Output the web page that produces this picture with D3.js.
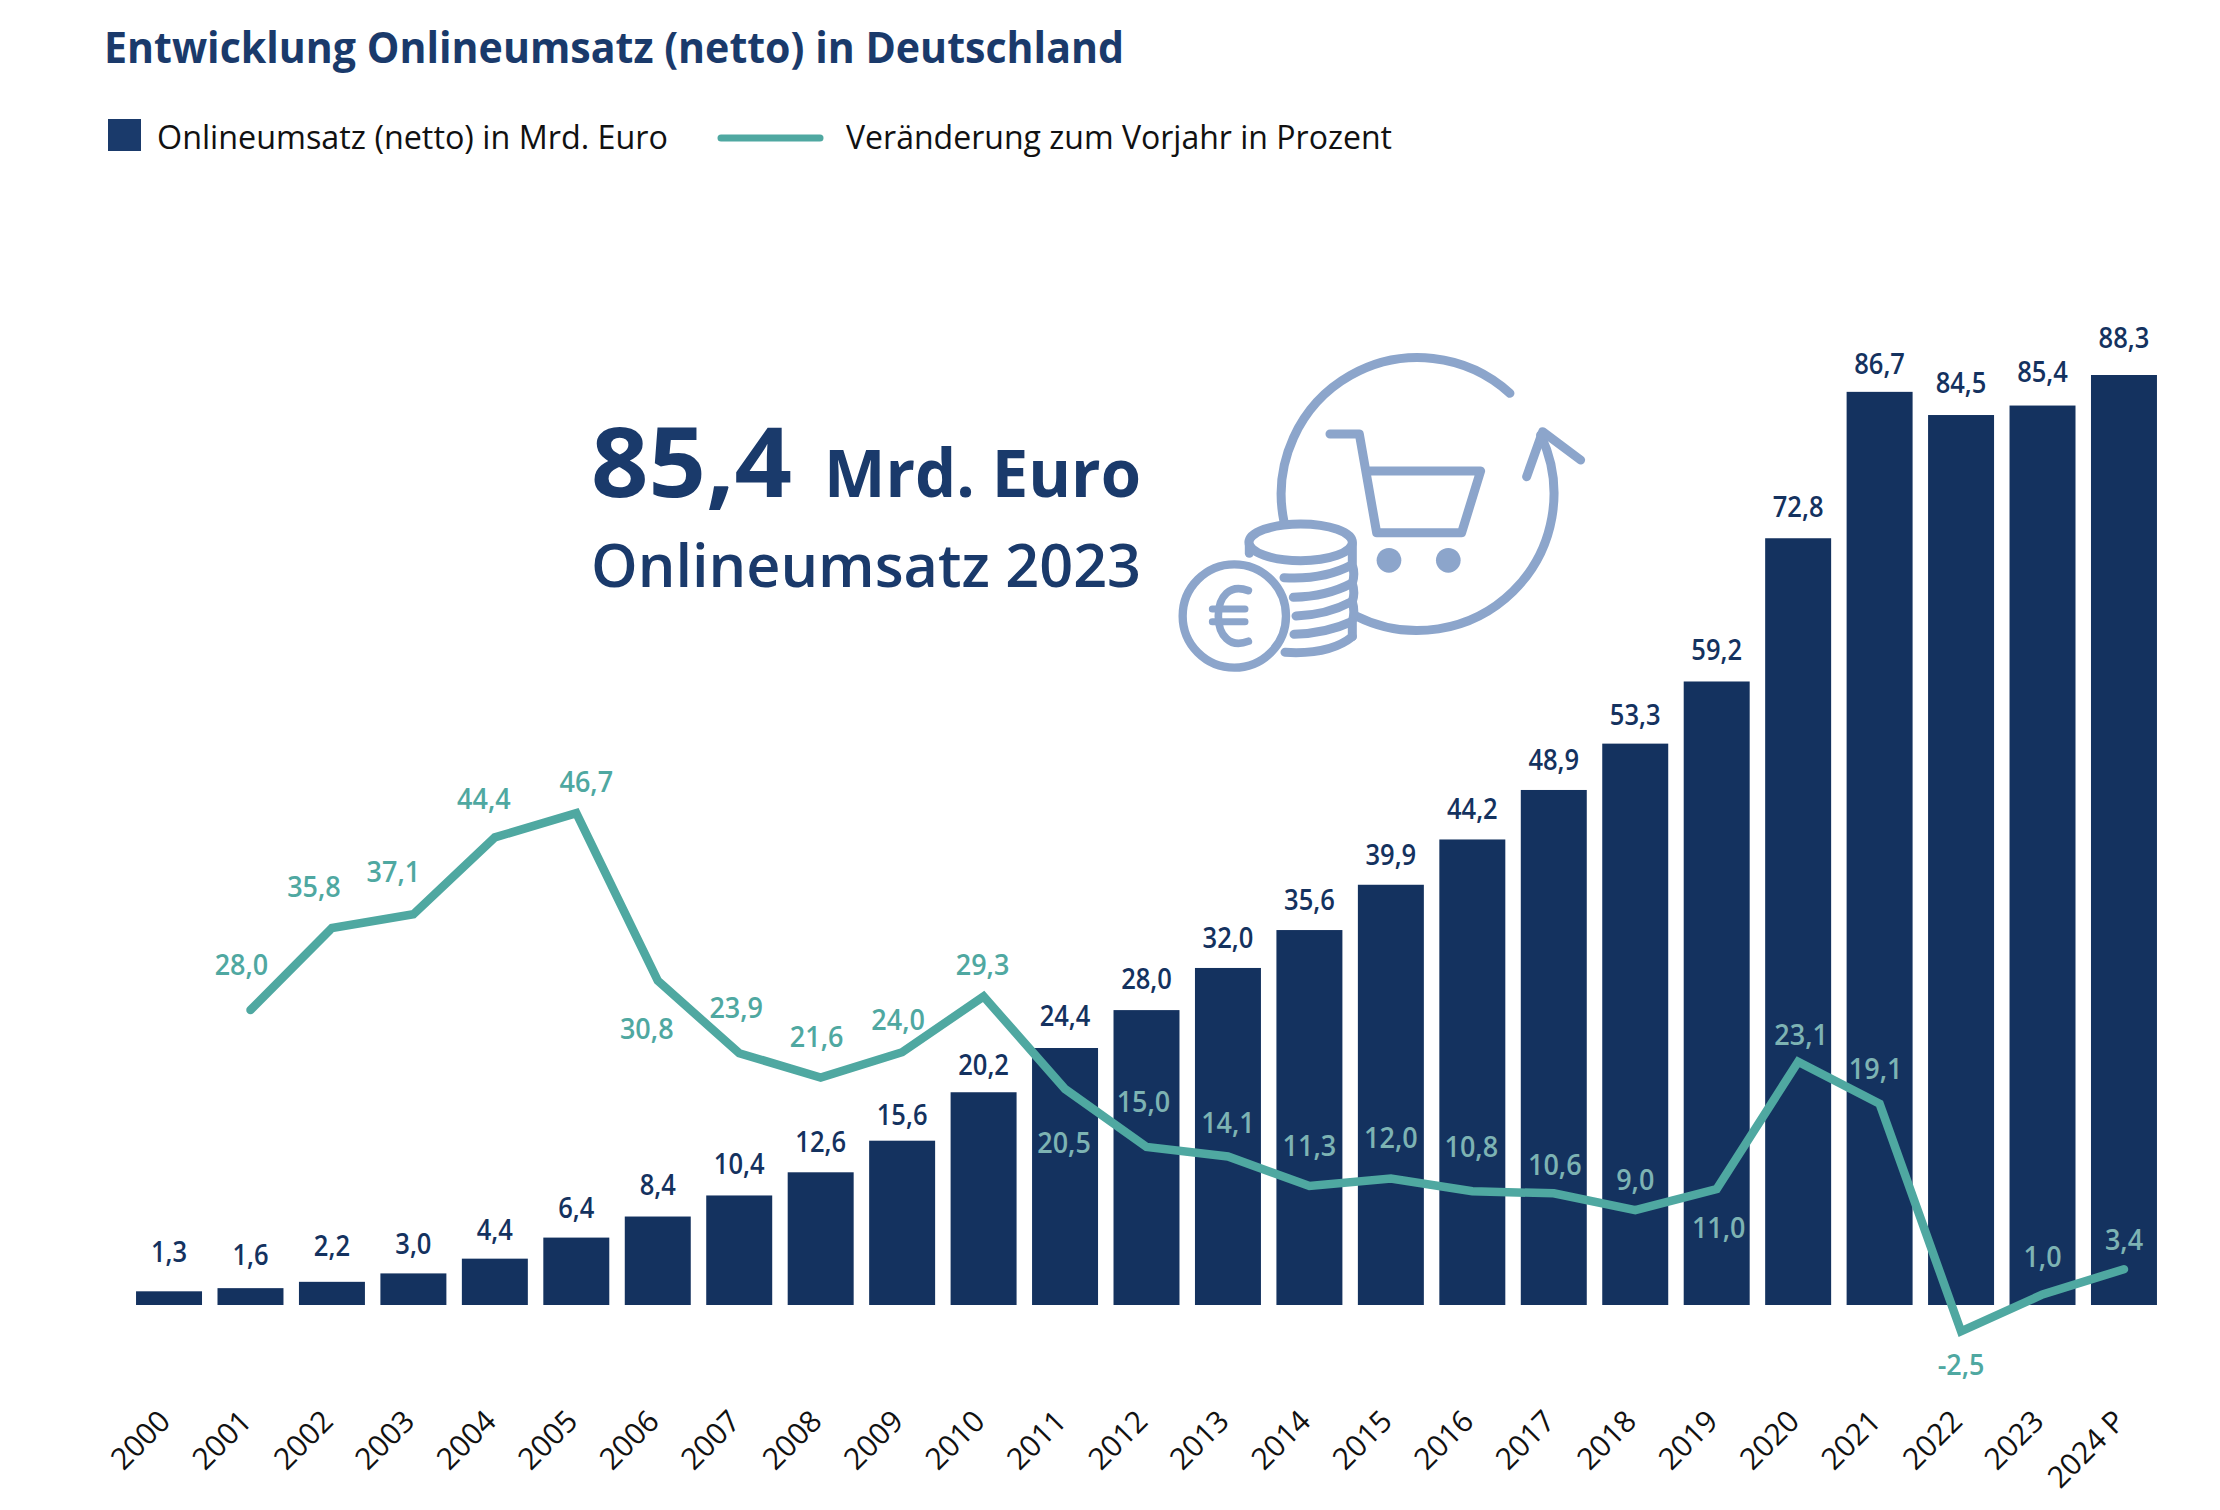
<!DOCTYPE html>
<html lang="de">
<head>
<meta charset="utf-8">
<title>Entwicklung Onlineumsatz (netto) in Deutschland</title>
<script src="https://cdnjs.cloudflare.com/ajax/libs/d3/7.8.5/d3.min.js"></script>
<style>
    html, body { margin: 0; padding: 0; background: #fff; }
    svg { display: block; }
    text { font-family: "Open Sans", sans-serif; }
</style>
</head>
<body>
<svg id="chart" width="2220" height="1510"></svg>
<script>
const years = ['2000', '2001', '2002', '2003', '2004', '2005', '2006', '2007', '2008', '2009', '2010', '2011',
    '2012', '2013', '2014', '2015', '2016', '2017', '2018', '2019', '2020', '2021', '2022', '2023', '2024 P'];
const revenue = [1.3, 1.6, 2.2, 3.0, 4.4, 6.4, 8.4, 10.4, 12.6, 15.6, 20.2, 24.4,
    28.0, 32.0, 35.6, 39.9, 44.2, 48.9, 53.3, 59.2, 72.8, 86.7, 84.5, 85.4, 88.3];
const change = [null, 28.0, 35.8, 37.1, 44.4, 46.7, 30.8, 23.9, 21.6, 24.0, 29.3, 20.5,
    15.0, 14.1, 11.3, 12.0, 10.8, 10.6, 9.0, 11.0, 23.1, 19.1, -2.5, 1.0, 3.4];

// label placement, kept apart from the values
const barLabelGap = [29, 23, 26, 19, 19, 20, 22, 21, 20, 16, 17, 22, 21, 20, 20, 20, 20, 20, 19, 21, 21, 18, 22, 24, 27];
const changeLabelOffset = [null, [-9, -45], [-18, -41], [-20, -42], [-11, -38], [10, -31], [-11, 48], [-3, -45], [-4, -41],
    [-4, -32], [-1, -31], [-1, 54], [-3, -45], [0, -33], [0, -40], [0, -41], [-1, -44], [1, -28], [0, -30], [2, 39],
    [3, -27], [-4, -35], [0, 34], [0, -37], [0, -29]];

const navy = '#14325f';
const titleBlue = '#1a3a6b';
const teal = '#4fa8a1';
const tealOnBar = '#7db3b3';
const iconBlue = '#8ca5cb';

const svg = d3.select('#chart');

const x = d3.scaleBand().domain(years).range([128.3, 2164.7]).paddingInner(0.19).paddingOuter(0.095);
const y = d3.scaleLinear().domain([0, 88.3]).range([1305, 375]);
const fmt = v => d3.format('.1f')(v).replace('.', ',').replace('\u2212', '-');
const cx = i => x(years[i]) + x.bandwidth() / 2;

// squeeze Open Sans to the narrower widths of the original typeface
function squeeze(selection, factor) {
    selection.each(function() {
        d3.select(this)
            .attr('textLength', this.getComputedTextLength() * factor)
            .attr('lengthAdjust', 'spacingAndGlyphs');
    });
}

function fitText(x0, baseline, str, size, weight, fill, width) {
    svg.append('text')
        .attr('x', x0).attr('y', baseline)
        .attr('font-size', size).attr('font-weight', weight).attr('fill', fill)
        .attr('textLength', width).attr('lengthAdjust', 'spacingAndGlyphs')
        .text(str);
}

fitText(104, 63, 'Entwicklung Onlineumsatz (netto) in Deutschland', 43, 700, titleBlue, 1020);

// legend
svg.append('rect').attr('x', 108).attr('y', 119).attr('width', 33).attr('height', 32).attr('fill', titleBlue);
fitText(157, 149, 'Onlineumsatz (netto) in Mrd. Euro', 33, 400, '#111', 511);
svg.append('line').attr('x1', 721).attr('x2', 820).attr('y1', 138).attr('y2', 138)
    .attr('stroke', teal).attr('stroke-width', 7).attr('stroke-linecap', 'round');
fitText(846, 149, 'Veränderung zum Vorjahr in Prozent', 33, 400, '#111', 546);

// bars
svg.append('g').selectAll('rect')
    .data(revenue)
    .join('rect')
    .attr('x', (d, i) => x(years[i]))
    .attr('y', d => y(d))
    .attr('width', x.bandwidth())
    .attr('height', d => y(0) - y(d))
    .attr('fill', navy);

svg.append('g').selectAll('text')
    .data(revenue)
    .join('text')
    .attr('x', (d, i) => cx(i))
    .attr('y', (d, i) => y(d) - barLabelGap[i])
    .attr('text-anchor', 'middle')
    .attr('font-size', 29).attr('font-weight', 600).attr('fill', navy)
    .text(fmt)
    .call(squeeze, 0.88);

// change line
const line = d3.line()
    .defined(d => d !== null)
    .x((d, i) => cx(i))
    .y(d => y(d));

svg.append('path')
    .attr('d', line(change))
    .attr('fill', 'none')
    .attr('stroke', teal)
    .attr('stroke-width', 8.5)
    .attr('stroke-linecap', 'round')
    .attr('stroke-linejoin', 'miter');

const changePoints = change.map((v, i) => ({v, i})).filter(p => p.v !== null);

svg.append('g').selectAll('text')
    .data(changePoints)
    .join('text')
    .attr('x', p => cx(p.i) + changeLabelOffset[p.i][0])
    .attr('y', p => y(p.v) + changeLabelOffset[p.i][1] + 10)
    .attr('text-anchor', 'middle')
    .attr('font-size', 29).attr('font-weight', 600)
    .attr('fill', p => {
        let labelY = y(p.v) + changeLabelOffset[p.i][1];
        return (labelY > y(revenue[p.i]) && labelY < y(0)) ? tealOnBar : teal;
    })
    .text(p => fmt(p.v))
    .call(squeeze, 0.93);

// year axis
const axis = svg.append('g')
    .attr('transform', 'translate(0,1423)')
    .call(d3.axisBottom(x).tickSize(0).tickPadding(0));
axis.select('.domain').remove();
axis.selectAll('.tick text')
    .attr('transform', 'translate(3,0) rotate(-45)')
    .attr('text-anchor', 'end')
    .attr('dy', 0).attr('y', 0).attr('x', 0)
    .attr('font-family', '"Open Sans", sans-serif')
    .attr('font-size', 30)
    .attr('fill', '#111');

// headline figure
fitText(591, 497, '85,4', 97, 700, titleBlue, 201);
fitText(824, 497, 'Mrd. Euro', 67, 700, titleBlue, 317);
fitText(591, 587, 'Onlineumsatz 2023', 60, 600, titleBlue, 550);

// shopping cart icon, drawn in the 3x coordinates of a 500x370 box
const icon = svg.append('g')
    .attr('transform', 'translate(1150,320) scale(0.3333)')
    .attr('fill', 'none')
    .attr('stroke', iconBlue)
    .attr('stroke-width', 27)
    .attr('stroke-linecap', 'round')
    .attr('stroke-linejoin', 'round');

icon.append('path').attr('d', 'M1080 220A410 410 0 0 0 402 605');
icon.append('path').attr('d', 'M618 888A410 410 0 0 0 1172 345');
icon.append('path').attr('d', 'M1130 470L1178 335L1292 420');
icon.append('path').attr('d', 'M540 342H628L680 638H935L992 453H655');
icon.append('circle').attr('cx', 717).attr('cy', 721).attr('r', 37).attr('fill', iconBlue).attr('stroke', 'none');
icon.append('circle').attr('cx', 895).attr('cy', 721).attr('r', 37).attr('fill', iconBlue).attr('stroke', 'none');

icon.append('path').attr('d', 'M298 665V700');
icon.append('path').attr('d', 'M607 670V735Q616 762 607 790Q616 818 607 845Q616 875 607 905V950');
icon.append('ellipse').attr('cx', 452).attr('cy', 667).attr('rx', 155).attr('ry', 55).attr('fill', '#fff');
icon.append('path').attr('d', 'M402 773Q520 780 605 735');
icon.append('path').attr('d', 'M430 832Q530 830 605 790');
icon.append('path').attr('d', 'M438 888Q530 885 605 845');
icon.append('path').attr('d', 'M432 943Q530 940 605 905');
icon.append('path').attr('d', 'M405 997Q540 1005 607 950');

icon.append('circle').attr('cx', 253).attr('cy', 888).attr('r', 155).attr('fill', '#fff').attr('stroke-width', 25);
icon.append('path').attr('stroke-width', 23).attr('d', 'M295 812C240 790 205 830 205 888C205 946 240 986 295 964');
icon.append('path').attr('stroke-width', 21).attr('d', 'M187 867H285M187 905H285');
</script>
</body>
</html>
